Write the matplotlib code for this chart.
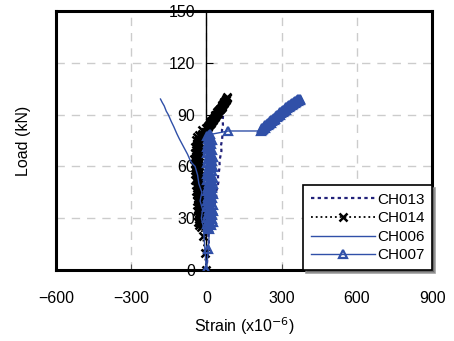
import matplotlib
matplotlib.use("Agg")
import matplotlib.pyplot as plt

plt.rcParams['font.family'] = ['Liberation Sans', 'DejaVu Sans']

# (strain x10^-6, load kN)

# CH013 - navy dotted line
ch013 = [(0, 0), (3, 5), (6, 10), (10, 15), (8, 20), (14, 24), (20, 27), (24, 30), (22, 33),
         (28, 36), (34, 39), (40, 42), (38, 45), (44, 48), (48, 51), (46, 54), (50, 57),
         (53, 60), (52, 63), (56, 66), (60, 69), (58, 72), (62, 75), (64, 78), (62, 81),
         (66, 84), (65, 87), (67, 90), (66, 93), (68, 96), (67, 98), (68, 100)]

# CH014 - black dotted with x markers
ch014 = [(0, 0), (-6, 10), (-14, 20),
         (-22, 25), (-31, 25.8), (-17, 26.5), (-27, 27.3), (-35, 28), (-20, 28.8), (-29, 29.5),
         (-14, 30.3), (-25, 31), (-33, 31.8), (-19, 32.5), (-28, 33.3), (-36, 34), (-22, 34.8),
         (-30, 35.5), (-16, 36.3), (-26, 37), (-34, 37.8), (-21, 38.5), (-31, 39.3), (-38, 40),
         (-24, 40.8), (-32, 41.5), (-18, 42.3), (-28, 43), (-37, 43.8), (-23, 44.5), (-33, 45.3),
         (-40, 46), (-26, 46.8), (-35, 47.5), (-21, 48.3), (-30, 49), (-39, 49.8), (-27, 50.5),
         (-36, 51.3), (-44, 52), (-30, 52.8), (-39, 53.5), (-25, 54.3), (-34, 55), (-43, 55.8),
         (-31, 56.5), (-40, 57.3), (-47, 58), (-33, 58.8), (-42, 59.5), (-28, 60.3), (-37, 61),
         (-45, 61.8), (-32, 62.5), (-41, 63.3), (-48, 64), (-35, 64.8), (-43, 65.5), (-30, 66.3),
         (-39, 67), (-46, 67.8), (-33, 68.5), (-41, 69.3), (-28, 70), (-37, 70.8), (-44, 71.5),
         (-31, 72.3), (-39, 73), (-25, 73.8), (-34, 74.5), (-41, 75.3), (-28, 76), (-36, 76.8),
         (-22, 77.5), (-31, 78.3), (-18, 79),
         (-4, 80), (-16, 81), (2, 82), (-3, 82.5), (8, 83), (5, 83.5), (10, 84), (14, 84.5),
         (17, 85), (15, 85.5), (20, 86), (24, 86.5), (26, 87), (25, 87.5), (29, 88), (33, 88.5),
         (36, 89), (34, 89.5), (38, 90), (43, 90.5), (45, 91), (44, 91.5), (48, 92), (52, 92.5),
         (54, 93), (53, 93.5), (57, 94), (61, 94.5), (64, 95), (62, 95.5), (66, 96), (70, 96.5),
         (72, 97), (71, 97.5), (75, 98), (79, 98.5), (80, 99), (83, 99.5), (84, 100)]

# CH006 - blue solid line
ch006 = [(0, 0), (-6, 12), (-12, 25), (-20, 30), (-15, 35), (-25, 40), (-18, 45), (-30, 50),
         (-35, 55), (-45, 60), (-58, 62), (-66, 64), (-75, 67), (-86, 70), (-97, 73),
         (-108, 76), (-118, 79), (-130, 83), (-140, 86), (-152, 90), (-160, 92), (-168, 95),
         (-176, 97), (-183, 99)]

# CH007 - blue solid with open triangles
ch007 = [(0, 0), (8, 12), (12, 24),
         (8, 25), (20, 25.8), (4, 26.5), (15, 27.3), (26, 28), (10, 28.8), (21, 29.5), (3, 30.3),
         (14, 31), (24, 31.8), (7, 32.5), (18, 33.3), (28, 34), (11, 34.8), (22, 35.5), (4, 36.3),
         (15, 37), (25, 37.8), (8, 38.5), (19, 39.3), (2, 40), (12, 40.8), (22, 41.5), (5, 42.3),
         (16, 43), (27, 43.8), (9, 44.5), (20, 45.3), (3, 46), (13, 46.8), (24, 47.5), (7, 48.3),
         (18, 49), (28, 49.8), (11, 50.5), (21, 51.3), (4, 52), (15, 52.8), (25, 53.5), (8, 54.3),
         (19, 55), (2, 55.8), (12, 56.5), (22, 57.3), (5, 58), (16, 58.8), (26, 59.5), (9, 60.3),
         (19, 61), (3, 61.8), (13, 62.5), (23, 63.3), (7, 64), (17, 64.8), (26, 65.5), (9, 66.3),
         (20, 67), (4, 67.8), (14, 68.5), (23, 69.3), (7, 70), (16, 70.8), (3, 71.5), (12, 72.3),
         (20, 73), (5, 73.8), (14, 74.5), (22, 75.3), (8, 76), (16, 76.8), (4, 77.5), (12, 78),
         (16, 78.5), (87, 80.5), (217, 80.5),
         (220, 81), (223, 82.3), (226, 81.6), (229, 83), (232, 82.4), (235, 83.8), (238, 83.2),
         (241, 84.5), (244, 83.9), (247, 85.3), (250, 84.7), (253, 86), (256, 85.4), (259, 86.8),
         (262, 86.2), (265, 87.5), (268, 86.9), (271, 88.3), (274, 87.7), (277, 89), (280, 88.4),
         (283, 89.8), (286, 89.2), (289, 90.5), (292, 89.9), (295, 91.3), (298, 90.7), (301, 92),
         (304, 91.4), (307, 92.8), (310, 92.2), (313, 93.5), (316, 92.9), (319, 94.3), (322, 93.7),
         (325, 95), (328, 94.4), (331, 95.8), (334, 95.2), (337, 96.4), (340, 95.8), (343, 96.9),
         (346, 96.3), (349, 97.4), (352, 96.8), (355, 97.9), (358, 97.3), (361, 98.4), (364, 97.8),
         (367, 98.8), (370, 98.2), (373, 99), (375, 98.5)]

x_ticks = [-600, -300, 0, 300, 600, 900]
y_ticks = [0, 30, 60, 90, 120, 150]

navy = '#22227a'
blue = '#3050a8'

fig = plt.figure(figsize=(4.54, 3.41), dpi=100)
ax = fig.add_axes([0.123, 0.208, 0.829, 0.760])

x, y = zip(*ch013)
ax.plot(x, y, color=navy, ls=(0, (1.5, 1.5)), lw=1.6, label='CH013', zorder=3)
x, y = zip(*ch014)
ax.plot(x, y, color='black', ls=':', lw=1.3, marker='x', ms=6, mew=1.8,
        label='CH014', zorder=3)
x, y = zip(*ch006)
ax.plot(x, y, color=blue, lw=1.0, label='CH006', zorder=4)
x, y = zip(*ch007)
ax.plot(x, y, color=blue, lw=1.0, marker='^', ms=5.5, mfc='none', mew=1.6,
        label='CH007', zorder=4)

ax.set_xlim(-600, 900)
ax.set_ylim(0, 150)
ax.set_xticks(x_ticks)
ax.set_yticks(y_ticks)

# y axis drawn at strain = 0, frame line kept at the left edge
ax.spines['left'].set_position(('data', 0))
ax.spines['left'].set_linewidth(1.0)
for s in ['top', 'bottom', 'right']:
    ax.spines[s].set_linewidth(2.2)
ax.axvline(-600, color='black', lw=2.2, clip_on=False, zorder=5)

ax.grid(True, color='#cccccc', ls=(0, (6, 5)), lw=1.0)
ax.set_axisbelow(True)

ax.tick_params(axis='x', direction='in', length=4, pad=15, labelsize=11.5, color='#555555')
ax.tick_params(axis='y', direction='in', length=5, pad=8, labelsize=11.5)

ax.set_xlabel('Strain (x10$^{-6}$)', fontsize=11.5, labelpad=7)
ax.set_ylabel('Load (kN)', fontsize=11.5)
ax.yaxis.set_label_coords(-0.065, 0.5)

leg = ax.legend(loc='lower right', fontsize=11, borderaxespad=0, borderpad=0.5,
                labelspacing=0.3, handlelength=4.2, handletextpad=0.15,
                fancybox=False, framealpha=1, edgecolor='black',
                shadow={'color': '#888888', 'alpha': 0.8})
leg.get_frame().set_linewidth(1.2)
leg.set_zorder(6)

fig.savefig('out.png', dpi=100)
